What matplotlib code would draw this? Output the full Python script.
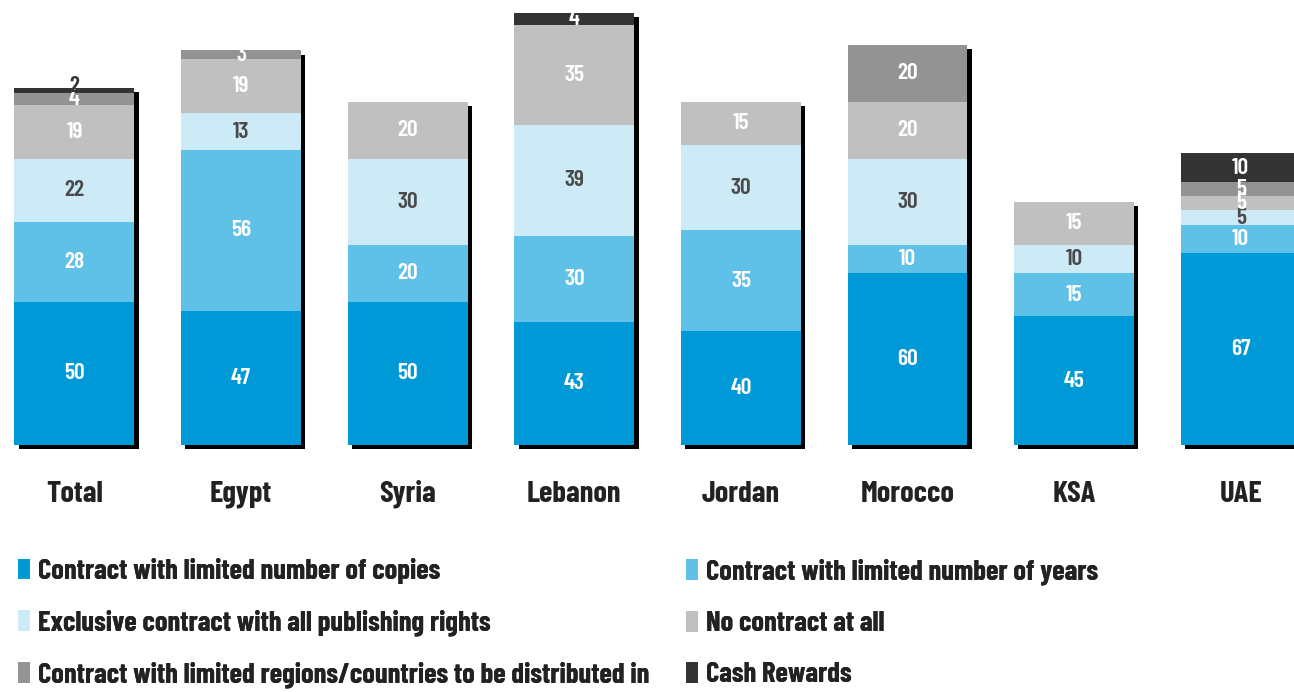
import numpy as np
import matplotlib
matplotlib.use("Agg")
import matplotlib.pyplot as plt
from matplotlib.patches import Patch

plt.rcParams['font.family'] = ['Barlow Condensed', 'DejaVu Sans']

countries = ["Total", "Egypt", "Syria", "Lebanon", "Jordan", "Morocco", "KSA", "UAE"]
copies    = [50, 47, 50, 43, 40, 60, 45, 67]
years     = [28, 56, 20, 30, 35, 10, 15, 10]
exclusive = [22, 13, 30, 39, 30, 30, 10, 5]
no_contr  = [19, 19, 20, 35, 15, 20, 15, 5]
regions   = [4, 3, 0, 0, 0, 20, 0, 5]
cash      = [2, 0, 0, 4, 0, 0, 0, 10]

series = [
    ("Contract with limited number of copies", copies, "#0099d8", "white"),
    ("Contract with limited number of years", years, "#5fc0e8", "white"),
    ("Exclusive contract with all publishing rights", exclusive, "#cdeaf7", "#4a4a4a"),
    ("No contract at all", no_contr, "#c0c0c0", "white"),
    ("Contract with limited regions/countries to be distributed in", regions, "#939393", "white"),
    ("Cash Rewards", cash, "#333333", "white"),
]

fig = plt.figure(figsize=(12.94, 6.92), dpi=100)
ax = fig.add_axes([0, 0, 1, 1])
ax.set_xlim(-0.447, 7.32)
ax.set_ylim(-86.4, 155.6)
ax.axis("off")

x = np.arange(len(countries))
w = 0.72
totals = np.sum([s[1] for s in series], axis=0)

# drop shadow behind each stack
ax.bar(x + 0.026, totals, width=w, bottom=-1.5, color="black", zorder=1)

bottom = np.zeros(len(countries))
for name, vals, col, tcol in series:
    vals = np.array(vals, dtype=float)
    ax.bar(x, vals, width=w, bottom=bottom, color=col, zorder=2)
    for xi, b, v in zip(x, bottom, vals):
        if v > 0:
            # tiny segments: nudge the label up a little so it stays readable
            yy = b + v / 2 + (1.5 if v < 3 else 0)
            ax.text(xi, yy, f"{int(v)}", ha="center", va="center",
                    color=tcol if v >= 3 else "#333333",
                    fontsize=17, fontweight=600, zorder=3)
    bottom += vals

for xi, c in zip(x, countries):
    ax.text(xi, -17.2, c, ha="center", va="center", fontsize=22,
            fontweight="bold", color="#222222")

handles = [Patch(facecolor=s[2], label=s[0]) for s in series]
leg_kw = dict(loc="center left", frameon=False, borderpad=0, borderaxespad=0,
              handlelength=0.42, handleheight=0.75, handletextpad=0.28,
              labelspacing=0.9, prop={"size": 20.5, "weight": "bold"},
              labelcolor="#222222")
for cols, x0 in [([0, 2, 4], 18 / 1294), ([1, 3, 5], 686 / 1294)]:
    leg = fig.legend([handles[i] for i in cols], [series[i][0] for i in cols],
                     bbox_to_anchor=(x0, 1 - 623 / 692), **leg_kw)
    fig.add_artist(leg)

fig.savefig("out.png", dpi=100)
